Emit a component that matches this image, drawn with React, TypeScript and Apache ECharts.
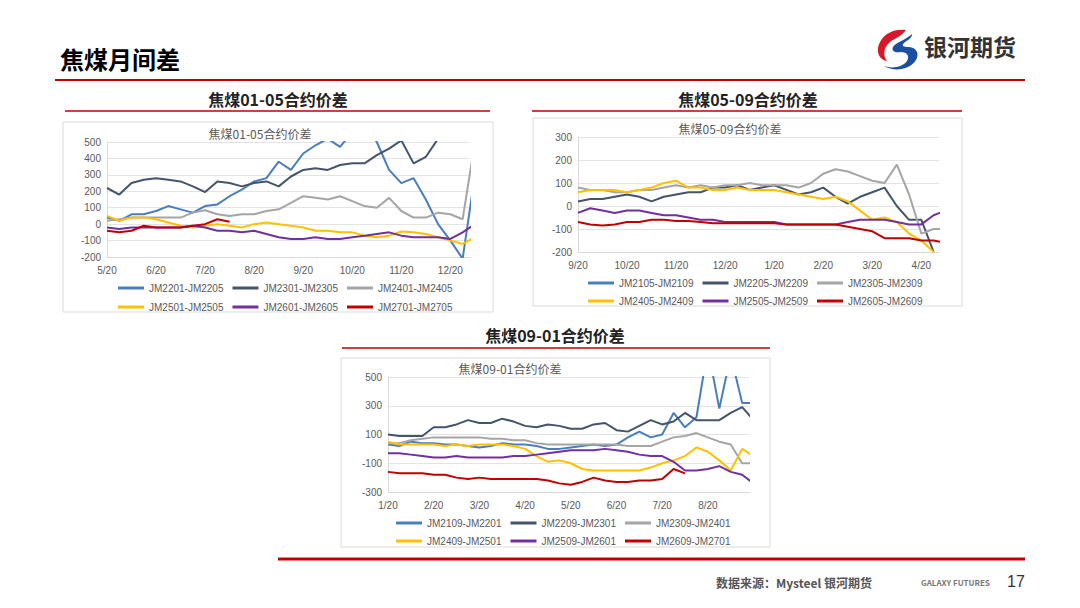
import React, { useEffect, useRef } from "react";
import * as echarts from "echarts";

const COLORS = ["#4a7ebb", "#44546a", "#a5a5a5", "#ffc000", "#7030a0", "#c00000"];

// chart 1: 焦煤01-05 (x step = 1/4 month from 5/20)
const ticks1 = ["5/20", "6/20", "7/20", "8/20", "9/20", "10/20", "11/20", "12/20"];
const names1 = ["JM2201-JM2205", "JM2301-JM2305", "JM2401-JM2405", "JM2501-JM2505", "JM2601-JM2605", "JM2701-JM2705"];
const s1_2201 = [40, 20, 60, 60, 80, 110, 90, 70, 110, 120, 170, 210, 260, 280, 380, 330, 430, 480, 520, 470, 560, 600, 500, 330, 250, 280, 150, 0, -100, -210, 300];
const s1_2301 = [220, 180, 250, 270, 280, 270, 260, 230, 195, 260, 250, 230, 250, 260, 230, 290, 330, 340, 330, 360, 370, 370, 420, 460, 510, 370, 410, 520, null, null, null];
const s1_2401 = [20, 30, 40, 40, 40, 40, 40, 70, 85, 60, 50, 60, 60, 80, 90, 130, 170, 160, 150, 170, 140, 110, 100, 160, 80, 40, 40, 70, 60, 30, 500];
const s1_2501 = [50, 20, 40, 40, 30, 10, -10, -20, -10, 0, -10, -20, 0, 10, 0, -10, -20, -40, -40, -50, -50, -70, -80, -70, -45, -50, -60, -80, -100, -120, -80];
const s1_2601 = [-20, -30, -20, -20, -20, -20, -20, -10, -20, -40, -40, -50, -40, -60, -80, -90, -90, -80, -90, -90, -80, -70, -60, -50, -70, -80, -80, -80, -90, -50, 0];
const s1_2701 = [-40, -50, -40, -10, -20, -20, -20, -10, 0, 30, 15, null, null, null, null, null, null, null, null, null, null, null, null, null, null, null, null, null, null, null, null];

// chart 2: 焦煤05-09 (from 9/20)
const ticks2 = ["9/20", "10/20", "11/20", "12/20", "1/20", "2/20", "3/20", "4/20"];
const names2 = ["JM2105-JM2109", "JM2205-JM2209", "JM2305-JM2309", "JM2405-JM2409", "JM2505-JM2509", "JM2605-JM2609"];
const s2_2105: (number | null)[] = [];
const s2_2205 = [20, 30, 30, 40, 50, 40, 20, 40, 50, 60, 60, 80, 80, 90, 70, 80, 90, 70, 50, 60, 80, 40, 10, 40, 60, 80, 0, -60, -60, -200, null];
const s2_2305 = [80, 70, 70, 60, 60, 70, 70, 80, 90, 80, 90, 80, 90, 90, 100, 90, 90, 90, 80, 100, 140, 160, 150, 130, 110, 100, 180, 50, -120, -100, -100];
const s2_2405 = [60, 70, 70, 70, 60, 70, 80, 100, 110, 80, 80, 70, 70, 80, 70, 70, 70, 60, 50, 40, 30, 40, 20, -20, -60, -50, -70, -120, -150, -200, null];
const s2_2505 = [-30, -10, -20, -30, -20, -20, -30, -40, -40, -50, -60, -60, -70, -70, -70, -70, -70, -80, -80, -80, -80, -80, -70, -60, -60, -60, -70, -80, -80, -40, -20];
const s2_2605 = [-70, -80, -85, -80, -70, -70, -60, -60, -65, -65, -70, -75, -75, -75, -75, -75, -75, -80, -80, -80, -80, -80, -90, -100, -110, -140, -140, -140, -150, -150, -160];

// chart 3: 焦煤09-01 (from 1/20)
const ticks3 = ["1/20", "2/20", "3/20", "4/20", "5/20", "6/20", "7/20", "8/20"];
const names3 = ["JM2109-JM2201", "JM2209-JM2301", "JM2309-JM2401", "JM2409-JM2501", "JM2509-JM2601", "JM2609-JM2701"];
const s3_2109 = [30, 20, 50, 40, 40, 30, 30, 20, 10, 20, 40, 30, 30, 20, 0, 0, 10, 20, 30, 20, 30, 80, 120, 80, 100, 250, 150, 220, 700, 280, 650, 320, 320];
const s3_2209 = [100, 90, 90, 90, 150, 150, 170, 200, 180, 180, 210, 190, 160, 150, 170, 160, 140, 140, 170, 180, 130, 120, 160, 200, 170, 190, 250, 200, 200, 200, 250, 290, 200];
const s3_2309 = [40, 40, 60, 70, 80, 80, 80, 80, 80, 70, 70, 60, 60, 40, 30, 30, 30, 30, 30, 30, 30, 20, 20, 20, 50, 80, 90, 110, 80, 50, 30, -100, -100];
const s3_2409 = [50, 30, 30, 30, 30, 20, 30, 20, 30, 30, 30, 20, 0, -50, -90, -80, -100, -140, -150, -150, -150, -150, -150, -130, -100, -80, -50, 10, -20, -80, -150, 0, -50];
const s3_2509 = [-30, -30, -40, -50, -60, -60, -50, -60, -60, -60, -60, -50, -50, -40, -30, -20, -10, -10, -10, 0, -10, -20, -40, -50, -50, -90, -150, -150, -140, -120, -160, -180, -240];
const s3_2609 = [-160, -170, -170, -170, -180, -180, -200, -210, -200, -210, -210, -210, -210, -210, -220, -240, -250, -230, -200, -220, -230, -230, -220, -220, -210, -140, -170, null, null, null, null, null, null];

const chart1 = [s1_2201, s1_2301, s1_2401, s1_2501, s1_2601, s1_2701];
const chart2 = [s2_2105, s2_2205, s2_2305, s2_2405, s2_2505, s2_2605];
const chart3 = [s3_2109, s3_2209, s3_2309, s3_2409, s3_2509, s3_2609];

const logoRed = "M30,2 C16,0 4,8 2,20 C1,27 5,32 11,33 C7,28 7,20 14,14 C19,10 25,9 30,2 Z";
const logoBlue = "M36,6 C30,12 20,14 17,19 C15,23 19,25 25,24 C31,24 34,28 31,33 C27,39 16,41 8,38 C18,44 34,42 40,32 C44,25 40,19 32,19 C28,19 25,18 28,15 C31,12 36,11 36,6 Z";

export default function App() {
  const ref = useRef<HTMLDivElement>(null);
  useEffect(() => {
    document.body.style.margin = "0";
    const RedPath = (echarts.graphic as any).extendPath(logoRed, {});
    const BluePath = (echarts.graphic as any).extendPath(logoBlue, {});
    echarts.graphic.registerShape("lgR", RedPath);
    echarts.graphic.registerShape("lgB", BluePath);
    const chart = echarts.init(ref.current!, null, { renderer: "svg" });
    const grids = [
      { left: 107, right: 610, top: 142, bottom: 351 },
      { left: 578, right: 141, top: 137, bottom: 356 },
      { left: 388, right: 331, top: 377, bottom: 116 },
    ];
    const xmax = [7.4, 7.36, 7.9];
    const ticks = [ticks1, ticks2, ticks3];
    const ys = [
      { min: -200, max: 500, interval: 100 },
      { min: -200, max: 300, interval: 100 },
      { min: -300, max: 500, interval: 200 },
    ];
    const names = [names1, names2, names3];
    const datas = [chart1, chart2, chart3];
    const axisText = { color: "#595959", fontSize: 10, fontFamily: "Liberation Sans" };
    const series: any[] = [];
    datas.forEach((cd, gi) => {
      cd.forEach((arr, si) => {
        series.push({
          type: "line",
          name: names[gi][si],
          xAxisIndex: gi,
          yAxisIndex: gi,
          showSymbol: false,
          connectNulls: false,
          lineStyle: { width: 2, color: COLORS[si] },
          itemStyle: { color: COLORS[si] },
          data: arr.map((v, i) => [i * 0.25, v]),
        });
      });
    });
    const legendPos = [
      { left: 113, top: [278, 297] },
      { left: 583, top: [273, 291] },
      { left: 391, top: [513, 531] },
    ];
    const legends: any[] = [];
    names.forEach((nm, gi) => {
      [0, 1].forEach((r) => {
        legends.push({
          left: legendPos[gi].left,
          top: legendPos[gi].top[r],
          data: nm.slice(r * 3, r * 3 + 3),
          icon: "rect",
          itemWidth: 26,
          itemHeight: 3,
          itemGap: 9,
          textStyle: { color: "#595959", fontSize: 10, fontFamily: "Liberation Sans", width: 80 },
          selectedMode: false,
        });
      });
    });
    const box = (x: number, y: number, w: number, h: number) => ({
      type: "rect", shape: { x, y, width: w, height: h }, style: { fill: "#fff", stroke: "#d9d9d9", lineWidth: 1 }, z: -10,
    });
    const hline = (x1: number, x2: number, y: number, w: number) => ({
      type: "line", shape: { x1, y1: y, x2, y2: y }, style: { stroke: "#c00000", lineWidth: w },
    });
    const txt = (x: number, y: number, text: string, size: number, color: string, weight: any, align: any = "left", family = "Noto Sans CJK SC") => ({
      type: "text", x, y, style: { text, fontSize: size, fill: color, fontWeight: weight, textAlign: align, textVerticalAlign: "middle", fontFamily: family },
    });
    chart.setOption({
      animation: false,
      grid: grids,
      xAxis: grids.map((_, gi) => ({
        type: "value", gridIndex: gi, min: 0, max: xmax[gi], interval: 1,
        axisLine: { show: true, onZero: false, lineStyle: { color: "#d9d9d9" } },
        axisTick: { show: false }, splitLine: { show: false },
        axisLabel: { ...axisText, showMaxLabel: false, formatter: (v: number) => (Number.isInteger(v) ? ticks[gi][v] ?? "" : "") },
      })),
      yAxis: grids.map((_, gi) => ({
        type: "value", gridIndex: gi, ...ys[gi],
        axisLine: { show: true, lineStyle: { color: "#d9d9d9" } }, axisTick: { show: false },
        splitLine: { lineStyle: { color: "#e3e3e3" } }, axisLabel: { ...axisText, margin: 6 },
      })),
      legend: legends,
      series,
      graphic: [
        box(63, 122, 430, 190),
        box(533, 118, 429, 188),
        box(341, 358, 429, 189),
        txt(60, 58, "焦煤月间差", 24, "#000", "bold"),
        hline(55, 1025, 80, 2),
        { type: "lgR", x: 876, y: 28, scaleX: 1, scaleY: 1, style: { fill: "#d7182a" } },
        { type: "lgB", x: 876, y: 28, scaleX: 1, scaleY: 1, style: { fill: "#1d4fa0" } },
        txt(924, 46, "银河期货", 23, "#333", "bold"),
        txt(278, 99, "焦煤01-05合约价差", 16, "#222", "bold", "center"),
        hline(65, 490, 111, 1.5),
        txt(748, 99, "焦煤05-09合约价差", 16, "#222", "bold", "center"),
        hline(532, 962, 111, 1.5),
        txt(555, 335, "焦煤09-01合约价差", 16, "#222", "bold", "center"),
        hline(342, 770, 348, 1.5),
        txt(260, 133, "焦煤01-05合约价差", 12, "#595959", "normal", "center"),
        txt(730, 128, "焦煤05-09合约价差", 12, "#595959", "normal", "center"),
        txt(510, 368, "焦煤09-01合约价差", 12, "#595959", "normal", "center"),
        hline(278, 1025, 559, 3),
        txt(716, 582, "数据来源：Mysteel 银河期货", 12, "#555", "bold"),
        txt(921, 582, "GALAXY FUTURES", 8, "#777", "bold"),
        txt(1007, 581, "17", 16, "#333", "normal", "left", "Liberation Sans"),
      ],
    });
    return () => chart.dispose();
  }, []);
  return <div ref={ref} style={{ width: 1080, height: 608, background: "#fff" }} />;
}
